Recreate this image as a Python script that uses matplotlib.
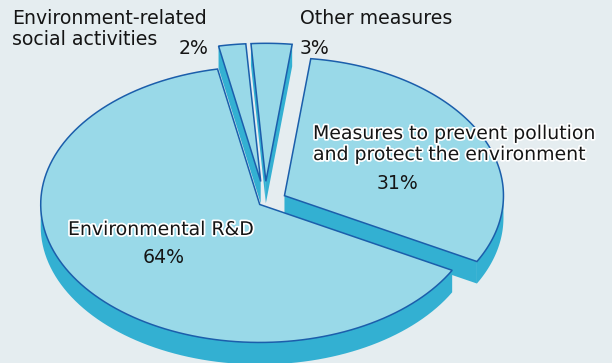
import numpy as np
import matplotlib.pyplot as plt
from matplotlib.patches import Polygon
import matplotlib.patheffects as pe

# data, in counter-clockwise order starting from the right-hand slice
labels = ['Measures to prevent pollution\nand protect the environment',
          'Other measures',
          'Environment-related\nsocial activities',
          'Environmental R&D']
shares = [31, 3, 2, 64]
explode = [0.10, 0.15, 0.15, 0.03]

# label layout: left x and first baseline (pixels, origin top-left)
label_pos = [(313, 139), (300, 24), (12, 24), (68, 235)]
pct_pos = [(398, 189), (300, 54), (179, 54), (164, 263)]
halo = [True, False, False, True]

top_col = '#99d9e8'
side_col = '#33b0d2'
edge_col = '#1b5eab'
bg = '#e5edf0'

cx, cy = 265, 202
rx, ry = 219, 138
depth = 22
start = -28.5

fig = plt.figure(figsize=(6.12, 3.63), dpi=100)
fig.patch.set_facecolor(bg)
ax = fig.add_axes([0, 0, 1, 1])
ax.set_xlim(0, 612)
ax.set_ylim(363, 0)
ax.axis('off')


def rim(t, ox, oy, dz=0):
    t = np.radians(t)
    return np.column_stack([cx + ox + rx * np.cos(t), cy + oy - ry * np.sin(t) + dz])


angles = np.cumsum([0] + [s * 3.6 for s in shares]) + start
slices = []
for i, s in enumerate(shares):
    a1, a2 = angles[i], angles[i + 1]
    mid = np.radians((a1 + a2) / 2)
    ox = rx * explode[i] * np.cos(mid)
    oy = -ry * explode[i] * np.sin(mid)
    slices.append((np.sin(mid), a1, a2, ox, oy))

# back to front
for _, a1, a2, ox, oy in sorted(slices, key=lambda q: -q[0]):
    apex = np.array([[cx + ox, cy + oy]])
    down = np.array([0, depth])
    # cut faces
    for a, show in ((a1, np.cos(np.radians(a1)) > 0), (a2, np.cos(np.radians(a2)) < 0)):
        if show:
            p = rim([a], ox, oy)
            ax.add_patch(Polygon(np.vstack([apex, p, p + down, apex + down]),
                                 facecolor=side_col, edgecolor='none'))
    # outer rim, only where the arc faces the viewer
    lo, hi = a1 % 360, a1 % 360 + (a2 - a1)
    for b0, b1 in ((-180, 0), (180, 360), (540, 720)):
        t0, t1 = max(lo, b0), min(hi, b1)
        if t1 > t0:
            tt = np.linspace(t0, t1, 80)
            ax.add_patch(Polygon(np.vstack([rim(tt, ox, oy), rim(tt[::-1], ox, oy, depth)]),
                                 facecolor=side_col, edgecolor='none'))
    # top face
    tt = np.linspace(a1, a2, 120)
    ax.add_patch(Polygon(np.vstack([apex, rim(tt, ox, oy)]), closed=True,
                         facecolor=top_col, edgecolor=edge_col, linewidth=1.1,
                         joinstyle='miter'))

font = dict(family='DejaVu Sans', fontsize=13.6, color='#151515')
line_gap = 21
for i, lab in enumerate(labels):
    x, y = label_pos[i]
    for j, line in enumerate(lab.split('\n')):
        t = ax.text(x, y + j * line_gap, line, ha='left', va='baseline', **font)
        if halo[i]:
            t.set_path_effects([pe.withStroke(linewidth=2.5, foreground='white')])
    px, py = pct_pos[i]
    ax.text(px, py, f'{shares[i]}%', ha='left' if i in (1, 2) else 'center',
            va='baseline', **font)

fig.savefig('out.png', dpi=100, facecolor=bg)
